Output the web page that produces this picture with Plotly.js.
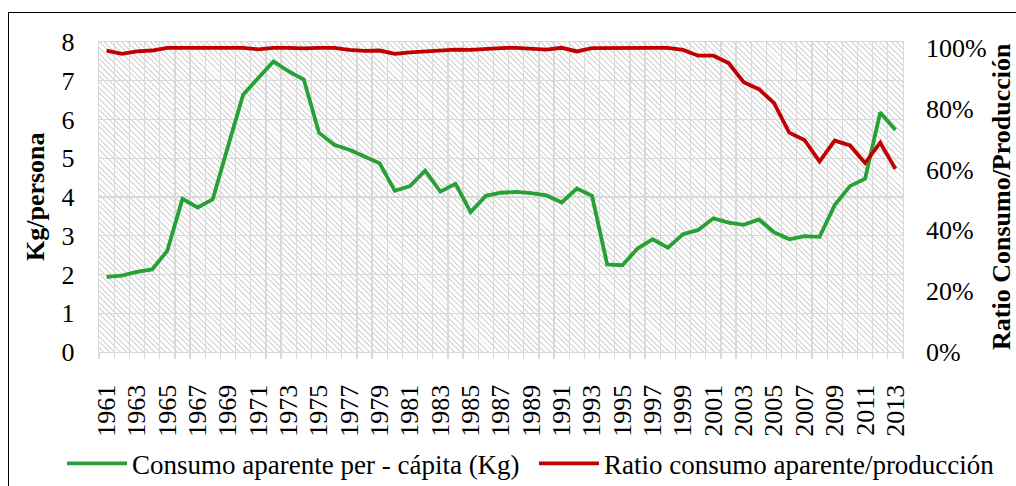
<!DOCTYPE html>
<html>
<head>
<meta charset="utf-8">
<script src="https://cdn.plot.ly/plotly-3.0.1.min.js"></script>
<style>
  html, body { margin: 0; padding: 0; background: #ffffff; }
  #wrap { position: relative; width: 1016px; height: 486px; overflow: hidden; }
  #hatch { position: absolute; z-index: 0;
    background: repeating-linear-gradient(45deg, #ffffff 0px, #ffffff 2.6px, #dcdcdc 2.6px, #dcdcdc 4px); }
  #frame { position: absolute; left: 8px; top: 12px; width: 1100px; height: 600px;
    border: 1.6px solid #000; z-index: 2; pointer-events: none; }
  #chart { position: absolute; left: 0; top: 0; z-index: 1; }
</style>
</head>
<body>
<div id="wrap">
  <div id="hatch"></div>
  <div id="chart"></div>
  <div id="frame"></div>
</div>
<script>
const years = [1961,1962,1963,1964,1965,1966,1967,1968,1969,1970,1971,1972,1973,1974,1975,1976,1977,1978,1979,1980,1981,1982,1983,1984,1985,1986,1987,1988,1989,1990,1991,1992,1993,1994,1995,1996,1997,1998,1999,2000,2001,2002,2003,2004,2005,2006,2007,2008,2009,2010,2011,2012,2013];

const consumoPerCapita = [1.94,1.97,2.07,2.13,2.61,3.95,3.73,3.94,5.30,6.64,7.07,7.50,7.24,7.03,5.66,5.35,5.22,5.04,4.87,4.16,4.28,4.68,4.14,4.34,3.61,4.03,4.11,4.13,4.10,4.04,3.86,4.22,4.03,2.26,2.24,2.67,2.91,2.69,3.04,3.15,3.45,3.34,3.28,3.42,3.09,2.91,2.99,2.97,3.79,4.28,4.47,6.18,5.73];

const ratioConsumoProduccion = [0.991,0.980,0.988,0.991,1.000,1.000,1.000,1.000,1.000,1.000,0.995,1.000,1.000,0.998,1.000,1.000,0.993,0.990,0.991,0.980,0.985,0.988,0.994,0.994,0.993,0.997,0.999,1.000,0.997,0.994,1.000,0.988,0.999,1.000,1.000,1.000,1.000,1.000,0.993,0.974,0.974,0.950,0.887,0.864,0.818,0.721,0.697,0.626,0.695,0.679,0.621,0.688,0.602];

const yLeftTicks = [0,1,2,3,4,5,6,7,8];
const yRightTicks = [0,0.2,0.4,0.6,0.8,1.0];
const xTickYears = years.filter(function(y){ return (y - 1961) % 2 === 0; });

const seriesNames = ['Consumo aparente per - cápita (Kg)', 'Ratio consumo aparente/producción'];
const leftTitle = 'Kg/persona';
const rightTitle = 'Ratio Consumo/Producción';

const W = 1016, H = 486;
const M = { l: 99, r: 113, t: 42, b: 134, autoexpand: false };
const FONT = '"Liberation Serif", "Times New Roman", Times, serif';
const GRID = '#d9d9d9';

const traces = [
  { x: years, y: consumoPerCapita, name: seriesNames[0], type: 'scatter', mode: 'lines',
    line: { color: '#27a035', width: 3.8 }, yaxis: 'y', hoverinfo: 'skip', legend: 'legend' },
  { x: years, y: ratioConsumoProduccion, name: seriesNames[1], type: 'scatter', mode: 'lines',
    line: { color: '#c00000', width: 3.8 }, yaxis: 'y2', hoverinfo: 'skip', legend: 'legend2' }
];

const legendBase = { orientation: 'h', xanchor: 'left', y: -0.361, yanchor: 'middle',
  font: { family: FONT, size: 27, color: '#000' }, itemwidth: 60, bgcolor: 'rgba(0,0,0,0)' };

const layout = {
  width: W, height: H,
  margin: M,
  paper_bgcolor: 'rgba(0,0,0,0)',
  plot_bgcolor: 'rgba(0,0,0,0)',
  font: { family: FONT, size: 26, color: '#000' },
  showlegend: true,
  legend: Object.assign({}, legendBase, { x: -0.046 }),
  legend2: Object.assign({}, legendBase, { x: 0.541 }),
  xaxis: {
    type: 'linear', range: [years[0] - 0.5, years[years.length - 1] + 0.5],
    tickmode: 'array', tickvals: xTickYears, ticktext: xTickYears.map(String),
    tickangle: -90, ticks: '', showgrid: false, zeroline: false,
    showline: true, linecolor: GRID, linewidth: 1.3, mirror: true,
    ticklabelstandoff: 21,
    tickfont: { family: FONT, size: 26, color: '#000' },
    minor: { tick0: years[0] - 0.5, dtick: 1, showgrid: true, gridcolor: GRID, gridwidth: 1.3,
      ticks: 'outside', ticklen: 6, tickcolor: GRID, tickwidth: 1.3 },
    fixedrange: true
  },
  yaxis: {
    range: [0, 8], tickmode: 'array', tickvals: yLeftTicks, ticktext: yLeftTicks.map(String),
    showgrid: true, gridcolor: GRID, gridwidth: 1.3, zeroline: false,
    showline: true, linecolor: GRID, linewidth: 1.3, mirror: true, ticks: '',
    ticklabelstandoff: 18,
    tickfont: { family: FONT, size: 26, color: '#000' }, fixedrange: true
  },
  yaxis2: {
    overlaying: 'y', side: 'right', range: [0, 1.019],
    tickmode: 'array', tickvals: yRightTicks, tickformat: '.0%',
    showgrid: false, zeroline: false, showline: false, ticks: '',
    ticklabelstandoff: 22,
    tickfont: { family: FONT, size: 26, color: '#000' }, fixedrange: true
  },
  annotations: [
    { text: '<b>' + leftTitle + '</b>', xref: 'paper', yref: 'paper', x: (35 - M.l) / (W - M.l - M.r), y: 0.5,
      xanchor: 'center', yanchor: 'middle', textangle: -90, showarrow: false,
      font: { family: FONT, size: 26, color: '#000' } },
    { text: '<b>' + rightTitle + '</b>', xref: 'paper', yref: 'paper', x: (1001 - M.l) / (W - M.l - M.r), y: 0.5,
      xanchor: 'center', yanchor: 'middle', textangle: -90, showarrow: false,
      font: { family: FONT, size: 26, color: '#000' } }
  ]
};

const hatch = document.getElementById('hatch');
hatch.style.left = M.l + 'px';
hatch.style.top = M.t + 'px';
hatch.style.width = (W - M.l - M.r) + 'px';
hatch.style.height = (H - M.t - M.b) + 'px';

Plotly.newPlot('chart', traces, layout, { displayModeBar: false, staticPlot: true });
</script>
</body>
</html>
